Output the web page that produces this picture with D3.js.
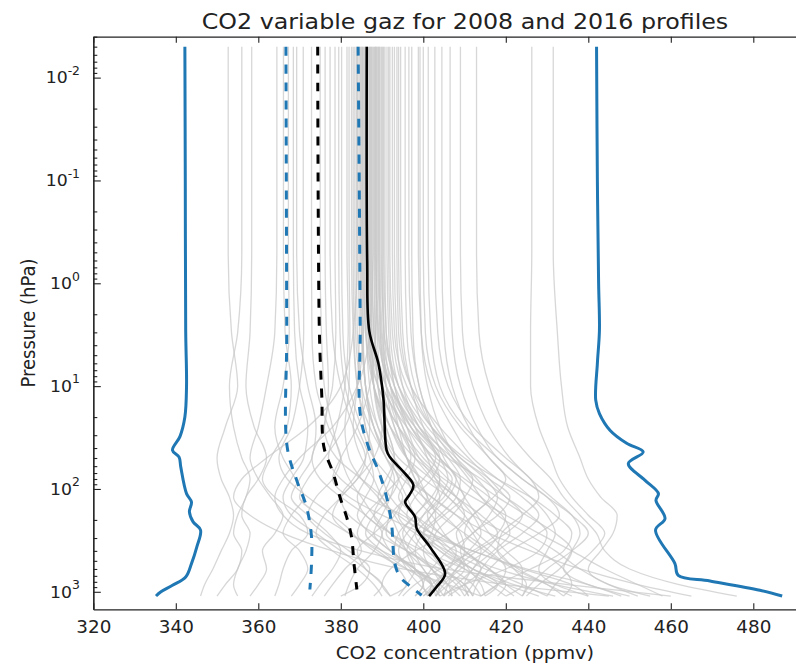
<!DOCTYPE html>
<html><head><meta charset="utf-8">
<script src="https://cdn.jsdelivr.net/npm/d3@7"></script>
<style>
body{margin:0;background:#fff}
svg{display:block;font-family:"DejaVu Sans",sans-serif}
</style>
</head><body>
<svg id="c" width="796" height="667"></svg>
<script>
// ---------------- DATA ----------------
const xTicks = [320, 340, 360, 380, 400, 420, 440, 460, 480];
const yTickExps = [-2, -1, 0, 1, 2, 3];
const yTickSup = ["-2", "-1", "0", "1", "2", "3"];

// pressure levels (hPa) for the individual gray profiles
const grayLevels = [0.005, 0.5, 3, 10, 25, 50, 80, 120, 180, 270, 400, 600, 850, 1100];
const grayProfiles = [
  [352.7,352.7,353.5,355,352,350,351,353,354,353,351,349,347,346],
  [356.0,356.0,355,353,354,356,358,357,355,354,356,355,352,350],
  [358.4,358.4,358,357,359,362,360,357,356,358,357,355,354,355],
  [364.5,364.5,364,362,360,358,360,363,366,364,361,362,360,358],
  [366.1,366.1,366.5,368,367,363,361,364,370,372,368,366,365,364],
  [367.3,367.3,367.5,366,364,366,369,371,368,366,370,372,370,368],
  [369.3,369.3,370,372,374,373,370,368,372,377,380,378,375,373],
  [370.9,370.9,371,370,368,365,367,372,378,383,385,381,378,376],
  [372.9,372.9,373,374,377,380,378,374,372,376,382,387,385,380],
  [376.2,376.2,376.5,377,376,373,375,380,386,390,388,384,382,381],
  [377.4,377.4,378,380,383,386,384,380,378,382,389,394,396,392],
  [378.6,378.6,378.8,378,376,379,385,390,392,388,384,386,390,388],
  [380.2,380.2,380.5,382,385,388,392,395,393,390,392,397,400,398],
  [381.5,381.5,381.8,381,379,377,380,386,395,402,407,410,406,403],
  [382.6,382.6,383,384,387,391,394,392,388,386,390,396,402,404],
  [383.4,383.4,383.6,385,388,392,397,401,398,394,393,398,404,407],
  [384.2,384.2,384.5,384,383,385,388,390,393,396,400,405,410,412],
  [385.0,385.0,385.3,386,389,393,396,398,402,405,408,406,402,399],
  [385.5,385.5,386,388,392,396,399,396,392,391,396,403,408,410],
  [386.0,386.0,386.5,388,391,393,391,389,394,400,405,412,418,415],
  [386.5,386.5,387,389,394,400,404,403,400,398,401,407,412,414],
  [387.1,387.1,387.5,390,395,398,396,394,398,404,410,414,410,406],
  [387.6,387.6,388,391,397,404,408,406,402,400,404,410,416,420],
  [388.0,388.0,388.3,389,392,396,402,408,412,414,411,406,403,401],
  [388.5,388.5,389,392,398,403,400,396,394,398,406,415,424,430],
  [389.0,389.0,389.5,392,396,401,406,410,407,403,402,405,409,411],
  [389.5,389.5,390,393,399,407,412,410,405,400,398,400,403,405],
  [390.7,390.7,391,393,396,399,403,408,414,418,415,409,405,403],
  [391.9,391.9,392.5,395,401,408,413,416,412,408,410,416,420,418],
  [393.6,393.6,394,397,404,411,416,420,424,420,413,408,406,405],
  [395.6,395.6,396,398,402,407,411,414,418,425,432,438,445,452],
  [397.2,397.2,397.5,399,403,409,416,421,418,412,409,411,414,415],
  [398.8,398.8,399.5,402,407,412,418,424,428,424,418,414,412,410],
  [399.2,399.2,399.5,401,404,408,412,418,425,432,436,433,428,425],
  [400.0,400.0,400.5,403,409,416,420,417,412,410,415,422,430,436],
  [401.2,401.2,401.8,404,410,418,424,430,433,428,421,416,413,412],
  [402.8,402.8,403.5,406,412,420,426,428,424,419,418,423,430,434],
  [406.5,406.5,407,409,413,418,424,430,436,440,436,430,426,424],
  [412.9,412.9,413.5,416,420,426,431,434,438,442,444,450,462,476],
  [426.3,426.3,426,426,428,431,433,436,440,444,441,436,432,430],
  [431.5,431.5,432.5,433.5,435,438,440,443,447,446,443,440,445,455],
  [384.0,384.0,383,380,372,362,356,354,358,366,378,395,420,445],
  [387.8,387.8,387,384,378,370,366,364,366,372,385,405,435,460],
  [385.8,385.8,385.5,384,381,376,372,370,375,382,390,398,402,400],
  [388.8,388.8,388.5,387,384,380,378,382,390,400,412,425,440,448],
  [386.8,386.8,387,388,390,388,384,380,376,374,378,384,388,390],
  [390.2,390.2,390.5,392,394,396,398,402,408,416,426,438,452,465],
  [383.0,383.0,383.2,384,386,388,390,392,396,402,412,424,436,440],
  [389.2,389.2,389.8,392,397,402,404,402,398,395,397,402,406,407],
  [384.6,384.6,385,386,388,391,395,400,405,409,410,408,404,400],
  [387.3,387.3,387.6,388,390,394,400,406,410,413,418,422,425,424],
  [391.2,391.2,391.6,393,397,402,407,405,400,396,394,396,399,402],
  [385.2,385.2,385.4,386,388,391,393,392,390,388,392,398,400,398],
  [388.2,388.2,388.4,389,391,393,392,390,388,392,398,402,404,403],
  [390.0,390.0,390.3,391,393,396,399,401,403,402,400,402,406,409],
  [396.5,396.5,397,399,402,405,408,410,413,416,420,424,424,420],
  [393.0,393.0,393.5,395,399,404,406,404,401,404,410,416,420,424],
  [382.0,382.0,382.2,382,381,382,385,389,392,394,396,400,402,401],
  [394.5,394.5,395,397,400,404,409,414,419,421,417,412,410,411],
  [379.5,379.5,379.8,381,384,387,388,386,384,387,392,398,402,403],
  [385.3,385.3,386,389,394,399,405,412,420,428,436,444,452,458],
  [386.2,386.2,386.8,390,396,403,410,416,420,418,412,404,398,395],
  [387.4,387.4,388,391,395,397,394,390,386,384,388,396,406,414],
  [388.6,388.6,389.2,392,398,406,414,420,426,430,428,420,410,404],
  [389.8,389.8,390.5,394,400,406,409,408,404,400,404,412,422,432],
  [384.8,384.8,385,386,387,386,383,380,382,388,396,404,410,412],
  [392.5,392.5,393,396,402,410,418,426,432,436,434,426,418,414],
  [386.4,386.4,386.8,388,392,398,404,408,410,406,398,392,390,392],
  [390.4,390.4,391,394,399,404,402,398,396,400,408,418,432,446],
  [383.8,383.8,384,385,386,388,386,384,386,392,400,410,418,422],
  [388.4,388.4,388.8,390,393,396,398,400,404,410,416,420,418,414],
  [391.6,391.6,392,394,398,401,403,406,412,420,428,434,436,434],
  [387.0,387.0,387.3,388,390,392,394,396,398,402,406,412,420,428],
  [385.9,385.9,386.2,387,389,392,396,402,408,412,414,412,408,405],
  [389.3,389.3,389.6,391,394,398,402,404,402,398,396,398,402,404],
  [368.5,368.5,368.8,370,372,371,368,366,368,374,380,386,390,392],
  [375.0,375.0,375.3,376,378,380,382,385,388,392,396,398,396,394],
  [394.0,394.0,394.5,397,402,409,415,418,416,412,406,402,400,401],
  [404.5,404.5,405,407,411,416,421,426,430,432,430,428,432,440],
  [409.0,409.0,409.5,412,416,421,426,431,436,438,436,434,440,450]
];

// envelope / statistic profiles
const maxP = [0.005, 0.1, 1, 2.86, 6, 13.7, 18.5, 27, 36, 43.7, 56.6, 82, 111, 129, 194, 251, 532, 692, 785, 967, 1100];
const maxV = [442.0, 442.2, 442.5, 442.7, 442.2, 441.8, 442.7, 445.3, 449.3, 453.3, 449.7, 453.7, 457.0, 456.4, 458.6, 456.3, 461.0, 461.8, 469.5, 481.6, 487.0];
const minP = [0.005, 0.1, 2.9, 10, 20, 31, 42, 49, 61, 111, 134, 167, 209, 251, 366, 532, 718, 865, 1000, 1100];
const minV = [342.2, 342.3, 342.4, 342.6, 342.2, 341.0, 339.2, 340.8, 341.2, 342.6, 343.8, 343.3, 344.2, 346.0, 345.1, 343.8, 342.4, 339.2, 336.4, 335.2];
const meanP = [0.005, 0.6, 2.9, 6, 12.7, 42, 49, 71, 92, 115, 134, 187, 243, 366, 665, 900, 1100];
const meanV = [386.3, 386.4, 386.9, 389.1, 390.3, 391.1, 391.9, 395.6, 397.6, 396.6, 395.6, 398.0, 398.4, 401.6, 405.3, 403.2, 401.4];
const meanDashP = [0.005, 2.86, 12.7, 39, 71, 120, 187, 293, 532, 950];
const meanDashV = [374.4, 374.8, 375.4, 375.9, 378.2, 379.8, 381.4, 382.6, 383.2, 383.9];
const lowDashP = [0.005, 2.86, 39, 82, 150, 293, 532, 950];
const lowDashV = [366.7, 366.9, 367.0, 369.3, 371.7, 372.9, 372.9, 372.5];
const highDashP = [0.005, 2.86, 18.5, 39, 66, 120, 217, 532, 718, 935, 1081];
const highDashV = [384.2, 384.7, 384.7, 386.7, 389.1, 391.1, 392.3, 393.1, 394.4, 397.6, 399.6];

const titleText = "CO2 variable gaz for 2008 and 2016 profiles";
const xLabel = "CO2 concentration (ppmv)";
const yLabel = "Pressure (hPa)";

// ---------------- DRAW ----------------
const SX = 1.08;
const svg = d3.select("#c");
const pLeft = 93.3, pRight = 835.8, pTop = 36.7, pBottom = 609.3;
const x = d3.scaleLinear().domain([320, 500]).range([pLeft, pRight]);
const y = d3.scaleLog().domain([0.004, 1480]).range([pTop, pBottom]);

const grayLine = d3.line().x(d => x(d[1])).y(d => y(d[0])).curve(d3.curveMonotoneY);
svg.append("g").selectAll("path").data(grayProfiles).join("path")
  .attr("d", vals => grayLine(vals.map((v, i) => [grayLevels[i], v])))
  .attr("fill", "none").attr("stroke", "#c6c6c6").attr("stroke-opacity", 0.7)
  .attr("stroke-width", 1.3);

const statLine = d3.line().x(d => x(d[1])).y(d => y(d[0])).curve(d3.curveCatmullRom.alpha(0.5));
const statStyles = [
  {p: minP, v: minV, color: "#1f77b4", dash: null, w: 3},
  {p: maxP, v: maxV, color: "#1f77b4", dash: null, w: 3},
  {p: lowDashP, v: lowDashV, color: "#1f77b4", dash: "9,9", w: 3},
  {p: highDashP, v: highDashV, color: "#1f77b4", dash: "9,9", w: 3},
  {p: meanDashP, v: meanDashV, color: "#000", dash: "9,9", w: 3},
  {p: meanP, v: meanV, color: "#000", dash: null, w: 2.6}
];
svg.append("g").selectAll("path").data(statStyles).join("path")
  .attr("d", s => statLine(s.p.map((p, i) => [p, s.v[i]])))
  .attr("fill", "none").attr("stroke", s => s.color).attr("stroke-width", s => s.w)
  .attr("stroke-dasharray", s => s.dash).attr("stroke-linejoin", "round");

// axes
const axColor = "#222";
function styleAxis(g) {
  g.attr("font-family", "DejaVu Sans, sans-serif");
  g.selectAll("path.domain").attr("stroke", axColor).attr("stroke-width", 1.2);
  g.selectAll(".tick line").attr("stroke", axColor).attr("stroke-width", 1.1);
}
svg.append("g").attr("transform", `translate(0,${pBottom})`)
  .call(d3.axisBottom(x).tickValues(xTicks).tickSizeInner(-6).tickSizeOuter(0).tickPadding(12))
  .call(styleAxis)
  .call(g => g.selectAll("text").attr("font-size", 17).attr("fill", "#222")
    .attr("transform", `scale(${SX},1)`));
svg.append("g").attr("transform", `translate(0,${pTop})`)
  .call(d3.axisTop(x).tickValues(xTicks).tickSizeInner(-6).tickSizeOuter(0).tickFormat(""))
  .call(styleAxis);
const yMajor = yTickExps.map(e => Math.pow(10, e));
const yMinor = y.ticks().filter(v => !yMajor.some(m => Math.abs(m - v) / m < 1e-6));
svg.append("g").attr("transform", `translate(${pLeft},0)`)
  .call(d3.axisLeft(y).tickValues(yMinor).tickSizeInner(-4).tickSizeOuter(0).tickFormat(""))
  .call(styleAxis);
svg.append("g").attr("transform", `translate(${pLeft},0)`)
  .call(d3.axisLeft(y).tickValues(yMajor).tickSizeInner(-7.5).tickSizeOuter(0).tickFormat(""))
  .call(styleAxis);

// y tick labels 10^n
const yl = svg.append("g").selectAll("text").data(yTickExps).join("text")
  .attr("transform", e => `translate(80,${y(Math.pow(10, e))}) scale(${SX},1)`)
  .attr("text-anchor", "end").attr("font-size", 16).attr("fill", "#222");
yl.append("tspan").attr("dy", "0.36em").text("10");
yl.append("tspan").attr("dy", -8.5).attr("font-size", 11.5).text((e, i) => yTickSup[i]);

// title and labels
svg.append("text").attr("transform", `translate(465,29) scale(${SX},1)`)
  .attr("text-anchor", "middle").attr("font-size", 22).attr("fill", "#222").text(titleText);
svg.append("text").attr("transform", `translate(465,658.5) scale(${SX},1)`)
  .attr("text-anchor", "middle").attr("font-size", 18).attr("fill", "#222").text(xLabel);
svg.append("text").attr("transform", `translate(35,323) rotate(-90) scale(1,${SX})`)
  .attr("text-anchor", "middle").attr("font-size", 18).attr("fill", "#222").text(yLabel);
</script>
</body></html>
